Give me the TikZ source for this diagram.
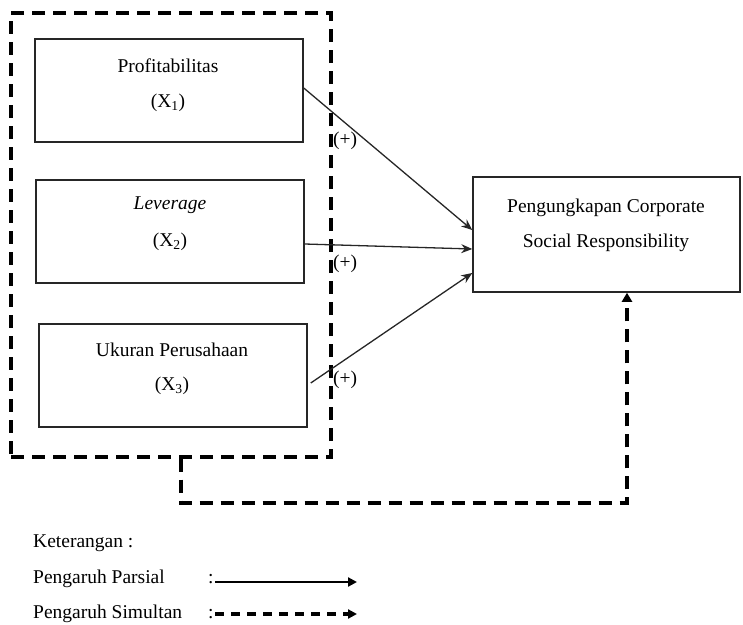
\documentclass[tikz,border=0pt]{standalone}
\usepackage{fontspec}
\setmainfont{Liberation Serif}
\usetikzlibrary{arrows.meta}
\begin{document}
\begin{tikzpicture}[x=1pt,y=-1pt,
  txt/.style={font=\fontsize{19.5}{22}\selectfont, inner sep=0pt},
  varbox/.style={draw=black!85, line width=1.5pt, minimum width=268pt, minimum height=103pt, inner sep=0pt},
  groupbox/.style={draw=black, line width=3.2pt, dash pattern=on 13pt off 8pt, minimum width=320pt, minimum height=444pt, inner sep=0pt},
  partial/.style={draw=black!85, line width=1.3pt, -{Stealth[length=11pt,width=9pt]}},
  simul/.style={draw=black, line width=3.2pt, dash pattern=on 13pt off 8pt, -{Triangle[length=9pt,width=10pt]}},
]
\useasboundingbox (0,0) rectangle (743,624);
% group box
\node[groupbox] (grp) at (171,235) {};
% variable boxes
\node[varbox] (b1) at (169,90.5) {};
\node[varbox] (b2) at (170,231.5) {};
\node[varbox] (b3) at (173,375.5) {};
\node[draw=black!85, line width=1.5pt, minimum width=267pt, minimum height=115pt, inner sep=0pt] (t) at (606.5,234.5) {};
% texts
\node[txt] (t1a) at (168,66) {Profitabilitas};
\node[txt] (t1b) at (168,103) {(X\textsubscript{1})};
\node[txt] (t2a) at (170,205) {\itshape Leverage};
\node[txt] (t2b) at (170,242) {(X\textsubscript{2})};
\node[txt] (t3a) at (172,350) {Ukuran Perusahaan};
\node[txt] (t3b) at (172,386) {(X\textsubscript{3})};
\node[txt] (tta) at (606,208) {Pengungkapan Corporate};
\node[txt] (ttb) at (606,243) {Social Responsibility};
% partial arrows
\draw[partial] ([yshift=2.5pt]b1.east) -- ([yshift=4.5pt]t.west);
\draw[partial] ([yshift=-12.5pt]b2.east) -- ([yshift=-14.5pt]t.west);
\draw[partial] ([xshift=3pt,yshift=-7.5pt]b3.east) -- ([yshift=-38.5pt]t.west);
\node[txt] (p1) at (345,141) {(+)};
\node[txt] (p2) at (345,264) {(+)};
\node[txt] (p3) at (345,380) {(+)};
% simultaneous arrow
\coordinate (c1) at (181,503);
\draw[simul] ([xshift=10pt]grp.south) -- (c1) -| ([xshift=20.5pt]t.south);
% legend
\node[txt, anchor=base west] (k) at (33,547) {Keterangan :};
\node[txt, anchor=base west] (lp) at (33,583) {Pengaruh Parsial};
\node[txt, anchor=base west] (ls) at (33,618) {Pengaruh Simultan};
\node[txt, anchor=base west] (cp) at (208,583) {:};
\node[txt, anchor=base west] (cs) at (208,618) {:};
\coordinate (lpa) at (215,582);
\coordinate (lpb) at (357,582);
\coordinate (lsa) at (215,614);
\coordinate (lsb) at (357,614);
\draw[draw=black, line width=2.6pt, -{Triangle[length=9pt,width=9pt]}] (lpa) -- (lpb);
\draw[draw=black, line width=3.2pt, dash pattern=on 9pt off 7pt, -{Triangle[length=9pt,width=9pt]}] (lsa) -- (lsb);
\end{tikzpicture}
\end{document}
